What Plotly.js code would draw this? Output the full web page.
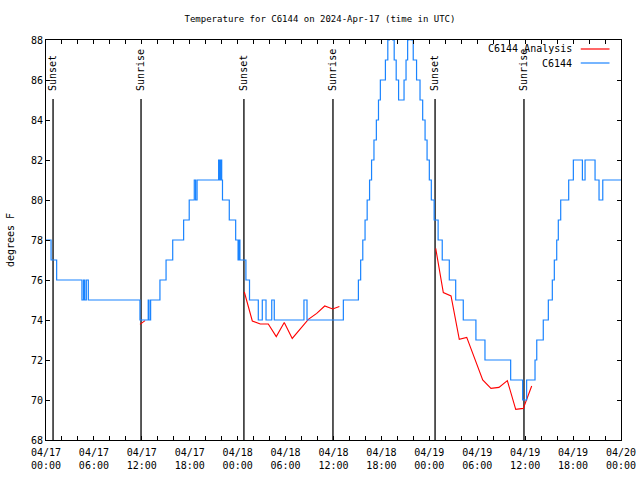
<!DOCTYPE html>
<html>
<head>
<meta charset="utf-8">
<script src="https://cdn.plot.ly/plotly-3.0.1.min.js"></script>
<style>html,body{margin:0;padding:0;background:#fff;}#chart{width:640px;height:480px;}</style>
</head>
<body>
<div id="chart"></div>
<script>
// Hours after 2024-04-17 00:00 UTC
const obsHours = [0, 0.63, 1.34, 4.5, 4.7, 4.85, 5.05, 5.3, 11.77, 12.8, 12.9, 13.1, 14.27, 15.03, 15.86, 17.24, 17.94, 18.57, 18.74, 18.91, 21.62, 21.75, 21.85, 22.0, 22.1, 22.95, 23.75, 24.05, 24.15, 24.29, 25.04, 25.48, 26.58, 27.08, 27.55, 28.26, 28.59, 32.3, 32.68, 37.23, 39.12, 39.4, 39.66, 39.95, 40.22, 40.51, 40.76, 41.07, 41.36, 41.64, 41.86, 42.5, 42.8, 43.0, 43.41, 43.6, 43.85, 44.15, 44.83, 45.08, 45.29, 45.45, 45.7, 45.99, 46.4, 46.83, 47.17, 47.46, 47.71, 48.0, 48.25, 48.6, 49.1, 49.62, 50.5, 51.3, 52.25, 53.84, 54.97, 58.19, 59.69, 60.19, 61.23, 61.45, 62.27, 62.9, 63.4, 63.65, 63.95, 64.15, 64.45, 65.45, 66.03, 67.16, 67.5, 68.75, 69.25, 69.71, 72];
const obsTemps = [78, 77, 76, 75, 76, 75, 76, 75, 74, 75, 74, 75, 76, 77, 78, 79, 80, 81, 80, 81, 82, 81, 82, 81, 80, 79, 78, 77, 78, 77, 76, 75, 74, 75, 74, 75, 74, 75, 74, 75, 76, 77, 78, 79, 80, 81, 82, 83, 84, 85, 86, 87, 88, 89, 88, 87, 86, 85, 86, 87, 88, 89, 88, 87, 86, 85, 84, 83, 82, 81, 80, 79, 78, 77, 76, 75, 74, 73, 72, 71, 70, 71, 72, 73, 74, 75, 76, 77, 78, 79, 80, 81, 82, 81, 82, 81, 80, 81, 81];

const anaHours = [11.77, 12.4, 18.0, 24.83, 25.83, 26.83, 27.84, 28.84, 29.84, 30.84, 31.84, 32.85, 33.9, 34.9, 35.9, 36.73, 42.0, 48.8, 49.75, 50.71, 51.75, 52.68, 53.72, 54.68, 55.72, 56.72, 57.76, 58.82, 59.77, 60.82];
const anaTemps = [73.78, 73.97, null, 75.4, 73.95, 73.8, 73.8, 73.17, 73.87, 73.08, 73.53, 74.03, 74.33, 74.7, 74.55, 74.67, null, 77.58, 75.37, 75.2, 73.03, 73.13, 72.0, 71.0, 70.58, 70.63, 70.97, 69.53, 69.58, 70.7];

const sunTimes = ['2024-04-17 00:53', '2024-04-17 11:54', '2024-04-18 00:47', '2024-04-18 11:56', '2024-04-19 00:43', '2024-04-19 11:51'];
const sunLabels = ['Sunset', 'Sunrise', 'Sunset', 'Sunrise', 'Sunset', 'Sunrise'];

const titleText = 'Temperature for C6144 on 2024-Apr-17 (time in UTC)';
const seriesNames = ['C6144 Analysis', 'C6144'];
const seriesColors = ['#ff0000', '#1a84ff'];

const baseMs = Date.UTC(2024, 3, 17, 0, 0);
function toTime(h) {
  const d = new Date(baseMs + Math.round(h * 60) * 60000);
  return d.toISOString().slice(0, 16).replace('T', ' ');
}

const FONT = 'DejaVu Sans Mono';
const fnt = {family: FONT, size: 10, color: '#000'};
const titleFnt = {family: FONT, size: 9, color: '#000'};

const traces = [
  {x: anaHours.map(toTime), y: anaTemps, type: 'scatter', mode: 'lines', name: seriesNames[0],
   line: {color: seriesColors[0], width: 1.1}, connectgaps: false, showlegend: false},
  {x: obsHours.map(toTime), y: obsTemps, type: 'scatter', mode: 'lines', name: seriesNames[1],
   line: {color: seriesColors[1], width: 1.2, shape: 'hv'}, showlegend: false}
];

const shapes = sunTimes.map(t => ({type: 'line', xref: 'x', yref: 'paper', x0: t, x1: t, y0: 0, y1: 0.8525,
  line: {color: '#000', width: 1.3}, layer: 'below'}));
const annotations = sunTimes.map((t, i) => ({x: t, xref: 'x', y: 0.8675, yref: 'paper', text: sunLabels[i],
  textangle: -90, showarrow: false, xanchor: 'center', yanchor: 'bottom', font: fnt}));

// legend (gnuplot style: text left of sample line)
const legY = [0.9775, 0.9425];
[0, 1].forEach(i => {
  annotations.push({x: 0.919, y: legY[i], xref: 'paper', yref: 'paper', text: seriesNames[i], showarrow: false,
    xanchor: 'right', yanchor: 'middle', font: fnt});
  shapes.push({type: 'line', xref: 'paper', yref: 'paper', x0: 0.930, x1: 0.980, y0: legY[i], y1: legY[i],
    line: {color: seriesColors[i], width: 1.2}});
});

const layout = {
  width: 640, height: 480,
  margin: {l: 46, r: 19, t: 40, b: 40},
  paper_bgcolor: '#fff', plot_bgcolor: '#fff',
  font: fnt,
  title: {text: titleText, font: titleFnt, x: 0.5, xanchor: 'center', y: 1 - 19 / 480, yanchor: 'middle'},
  xaxis: {
    type: 'date', range: [toTime(0), toTime(72)],
    tick0: '2024-04-17 00:00', dtick: 6 * 3600000, tickformat: '%m/%d<br>%H:%M',
    ticks: 'inside', ticklen: 4, tickcolor: '#000', tickwidth: 1, ticklabelstandoff: 3,
    showline: true, linecolor: '#000', linewidth: 1, mirror: 'ticks',
    showgrid: false, zeroline: false, tickfont: fnt,
    minor: {dtick: 2 * 3600000, ticks: 'inside', ticklen: 4, tickcolor: '#000', showgrid: false}
  },
  yaxis: {
    range: [68, 88], dtick: 2, tick0: 68,
    ticks: 'inside', ticklen: 4, tickcolor: '#000',
    showline: true, linecolor: '#000', linewidth: 1, mirror: 'ticks',
    showgrid: false, zeroline: false, tickfont: fnt,
    title: {text: 'degrees F', font: fnt, standoff: 14}
  },
  shapes: shapes,
  annotations: annotations,
  showlegend: false
};

Plotly.newPlot('chart', traces, layout, {displayModeBar: false, staticPlot: true});
</script>
</body>
</html>
